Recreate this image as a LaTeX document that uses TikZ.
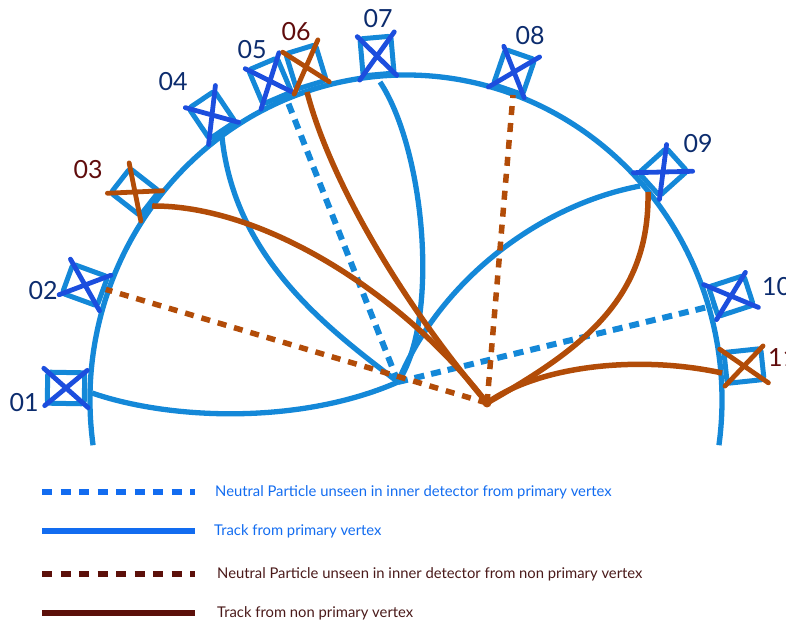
\documentclass[tikz,border=0pt]{standalone}
\usepackage{fontspec}
\setmainfont{Lato}
\usetikzlibrary{positioning}

\definecolor{detblue}{RGB}{20,136,216}
\definecolor{xblue}{RGB}{28,78,222}
\definecolor{trkbrown}{RGB}{178,76,8}
\definecolor{numblue}{RGB}{12,44,110}
\definecolor{numred}{RGB}{96,12,12}
\definecolor{keyblue}{RGB}{18,108,240}
\definecolor{keybrown}{RGB}{92,16,10}
\definecolor{keytext}{RGB}{74,26,26}

\begin{document}
\begin{tikzpicture}[x=1pt, y=1pt,
    detector/.style={draw=detblue, line width=5pt, rounded corners=3pt,
        minimum width=31pt, minimum height=37pt, inner sep=0pt},
    xmark/.style={line width=4.8pt, line cap=round, shorten <=-2pt, shorten >=-2pt},
    ptrk/.style={detblue, line width=5.3pt},
    pneu/.style={detblue, line width=6pt, dash pattern=on 10pt off 7pt},
    strk/.style={trkbrown, line width=5.5pt},
    sneu/.style={trkbrown, line width=5.5pt, dash pattern=on 9pt off 8pt},
    num/.style={font=\fontsize{25}{30}\selectfont, numblue},
    keyline/.style={line width=5.5pt},
    keylabel/.style={font=\fontsize{14.8}{17}\selectfont, anchor=west, inner sep=0pt}]
    \useasboundingbox (0,0) rectangle (786,626);

    % 探测器外壳
    \coordinate (c) at (406,226);
    \draw[ptrk] (c) ++(188:316 and 325)
        arc[start angle=188, end angle=-8, x radius=316, y radius=325];

    % 顶点与击中点
    \coordinate (pv) at (398,244);
    \coordinate (sv) at (487,223);
    \coordinate (h01) at (92,233);
    \coordinate (h02) at (101,338);
    \coordinate (h03) at (152,420);
    \coordinate (h04) at (222,489);
    \coordinate (h05) at (287,526);
    \coordinate (h06) at (307,534);
    \coordinate (h07) at (380,544);
    \coordinate (h08) at (513,531);
    \coordinate (h09a) at (640,440);
    \coordinate (h09b) at (648,434);
    \coordinate (h10) at (716,321);
    \coordinate (h11) at (722,253);

    % 主顶点径迹
    \draw[ptrk] (pv) .. controls (300,201) and (170,206) .. (h01);
    \draw[ptrk] (pv) .. controls (330,296) and (235,366) .. (h04);
    \draw[ptrk] (pv) .. controls (440,306) and (425,476) .. (h07);
    \draw[ptrk] (pv) .. controls (440,346) and (540,421) .. (h09a);
    \draw[pneu] (pv) -- (h05);
    \draw[pneu] (pv) -- (h10);

    % 次顶点径迹
    \draw[strk] (sv) .. controls (400,336) and (260,421) .. (h03);
    \draw[strk] (sv) .. controls (400,326) and (330,446) .. (h06);
    \draw[strk] (sv) .. controls (580,276) and (650,326) .. (h09b);
    \draw[strk] (sv) .. controls (540,261) and (640,271) .. (h11);
    \draw[sneu] (sv) -- (h02);
    \draw[sneu] (sv) -- (h08);
    \fill[trkbrown] (sv) circle (4.5);

    % 探测器单元
    \node[detector, rotate=89] (b01) at (66,238) {};
    \node[detector, rotate=70] (b02) at (85,341) {};
    \node[detector, rotate=52] (b03) at (135,434) {};
    \node[detector, rotate=34] (b04) at (212,511) {};
    \node[detector, rotate=23] (b05) at (270,545) {};
    \node[detector, rotate=17] (b06) at (306,559) {};
    \node[detector, rotate=5] (b07) at (377,570) {};
    \node[detector, rotate=-19] (b08) at (514,554) {};
    \node[detector, rotate=-48] (b09) at (663,454) {};
    \node[detector, rotate=-72] (b10) at (731,330) {};
    \node[detector, rotate=-84] (b11) at (744,260) {};

    % 击中标记
    \draw[xmark, xblue] (b01.north west) -- (b01.south east) (b01.north east) -- (b01.south west);
    \draw[xmark, xblue] (b02.north west) -- (b02.south east) (b02.north east) -- (b02.south west);
    \draw[xmark, trkbrown] (b03.north west) -- (b03.south east) (b03.north east) -- (b03.south west);
    \draw[xmark, xblue] (b04.north west) -- (b04.south east) (b04.north east) -- (b04.south west);
    \draw[xmark, xblue] (b05.north west) -- (b05.south east) (b05.north east) -- (b05.south west);
    \draw[xmark, trkbrown] (b06.north west) -- (b06.south east) (b06.north east) -- (b06.south west);
    \draw[xmark, xblue] (b07.north west) -- (b07.south east) (b07.north east) -- (b07.south west);
    \draw[xmark, xblue] (b08.north west) -- (b08.south east) (b08.north east) -- (b08.south west);
    \draw[xmark, xblue] (b09.north west) -- (b09.south east) (b09.north east) -- (b09.south west);
    \draw[xmark, xblue] (b10.north west) -- (b10.south east) (b10.north east) -- (b10.south west);
    \draw[xmark, trkbrown] (b11.north west) -- (b11.south east) (b11.north east) -- (b11.south west);

    % 编号
    \node[num] (n01) at (24,223) {01};
    \node[num] (n02) at (43,335) {02};
    \node[num, numred] (n03) at (88,456) {03};
    \node[num] (n04) at (173,544) {04};
    \node[num] (n05) at (252,576) {05};
    \node[num, numred] (n06) at (296,594) {06};
    \node[num] (n07) at (378,607) {07};
    \node[num] (n08) at (530,590) {08};
    \node[num] (n09) at (698,482) {09};
    \node[num, anchor=west, inner sep=0pt] (n10) at (762,339) {10};
    \node[num, numred, anchor=west, inner sep=0pt] (n11) at (768,268) {11};

    % 图例
    \coordinate (k1a) at (42,134); \coordinate (k1b) at (195,134);
    \coordinate (k2a) at (42,95);  \coordinate (k2b) at (195,95);
    \coordinate (k3a) at (42,52);  \coordinate (k3b) at (195,52);
    \coordinate (k4a) at (42,13);  \coordinate (k4b) at (195,13);
    \draw[keyline, keyblue, dash pattern=on 10pt off 8.5pt] (k1a) -- (k1b);
    \draw[keyline, keyblue] (k2a) -- (k2b);
    \draw[keyline, keybrown, dash pattern=on 10pt off 8.5pt] (k3a) -- (k3b);
    \draw[keyline, keybrown] (k4a) -- (k4b);
    \node[keylabel, keyblue, right=20pt of k1b] (t1) {Neutral Particle unseen in inner detector from primary vertex};
    \node[keylabel, keyblue, right=19pt of k2b] (t2) {Track from primary vertex};
    \node[keylabel, keytext, right=22pt of k3b] (t3) {Neutral Particle unseen in inner detector from non primary vertex};
    \node[keylabel, keytext, right=22pt of k4b] (t4) {Track from non primary vertex};
\end{tikzpicture}
\end{document}
